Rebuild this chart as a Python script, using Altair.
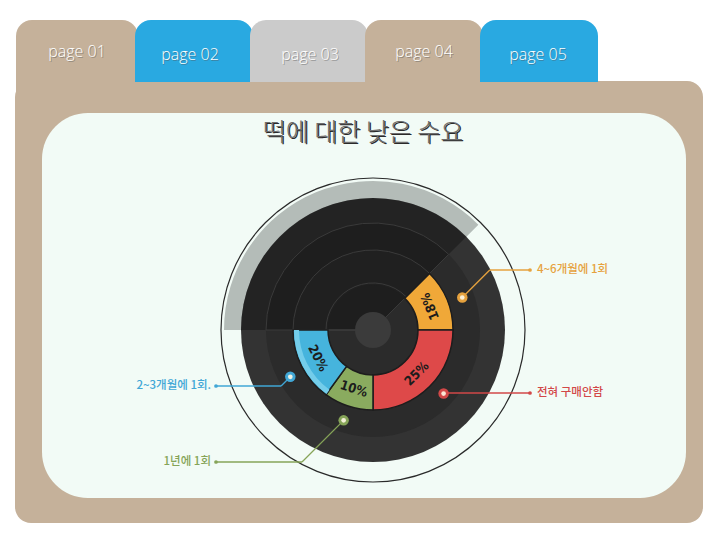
import altair as alt
import numpy as np
import pandas as pd

# ---------------- data ----------------
categories = ["4~6개월에 1회", "전혀 구매안함", "1년에 1회", "2~3개월에 1회."]
pct_labels = ["18%", "25%", "10%", "20%"]
start_deg = [45, 90, 180, 216]
end_deg = [90, 180, 216, 270]
seg_colors = ["#f0a838", "#de4949", "#8aab5f", "#46b4dd"]
label_colors = ["#e6a23e", "#d24848", "#86a458", "#41a7d6"]
tab_labels = ["page 01", "page 02", "page 03", "page 04", "page 05"]
title_text = "떡에 대한 낮은 수요"

# ---------------- layout ----------------
W, H, OFF = 704, 524, 8
CX, CY = 373 - OFF, 330 - OFF
TAU = 2 * np.pi
TAN, BLUE, GREY = "#c5b19a", "#29a9e1", "#cbcbcb"
one = pd.DataFrame({"k": [0]})
xs = alt.Scale(domain=[0, W], range=[0, W], nice=False, zero=False)
ys = alt.Scale(domain=[0, H], range=[0, H], nice=False, zero=False)
ts = alt.Scale(domain=[0, 360], range=[0, TAU], nice=False, zero=False)


def rect(x1, x2, y1, y2, color, **kw):
    return alt.Chart(one).mark_rect(color=color, **kw).encode(
        x=alt.value(x1 - OFF), x2=alt.value(x2 - OFF),
        y=alt.value(y1 - OFF), y2=alt.value(y2 - OFF))


def ring(r_in, r_out, color, t0=0.0, t1=TAU, **kw):
    return alt.Chart(one).mark_arc(innerRadius=r_in, outerRadius=r_out, color=color, **kw).encode(
        theta=alt.value(t0), theta2=alt.value(t1),
        x=alt.value(CX), y=alt.value(CY))


layers = []
# panel + tabs
layers.append(rect(15, 703, 81, 523, TAN, cornerRadius=16))
tab_x = [(16, 138), (135, 253), (250, 368), (365, 483), (480, 598)]
tab_c = [TAN, BLUE, GREY, TAN, BLUE]
for i, ((a, b), c) in enumerate(zip(tab_x, tab_c)):
    layers.append(rect(a, b, 20, 100 if i == 0 else 82, c,
                       cornerRadiusTopLeft=16, cornerRadiusTopRight=16))
layers.append(rect(42, 686, 113, 498, "#f2fbf6", cornerRadius=46))

tab_df = pd.DataFrame({
    "label": tab_labels,
    "x": [77 - OFF, 190 - OFF, 310 - OFF, 424 - OFF, 538 - OFF],
    "y": [52 - OFF, 55 - OFF, 55 - OFF, 52 - OFF, 55 - OFF],
})
tab_font = "Open Sans, Lato, DejaVu Sans"
layers.append(alt.Chart(tab_df).mark_text(font=tab_font, fontSize=16, fontWeight=300, color="#555",
                                          opacity=0.45, dx=1, dy=1, baseline="middle").encode(
    x=alt.X("x:Q", scale=xs, axis=None), y=alt.Y("y:Q", scale=ys, axis=None), text="label:N"))
layers.append(alt.Chart(tab_df).mark_text(font=tab_font, fontSize=16, fontWeight=300, color="#ffffff",
                                          baseline="middle").encode(
    x=alt.X("x:Q", scale=xs, axis=None), y=alt.Y("y:Q", scale=ys, axis=None), text="label:N"))

# title
title_df = pd.DataFrame({"t": [title_text], "x": [363 - OFF], "y": [133 - OFF]})
tfont = "Noto Sans CJK KR"
layers.append(alt.Chart(title_df).mark_text(font=tfont, fontSize=25, fontWeight=300, color="#2a2a2a",
                                            dx=1.3, dy=1.3, baseline="middle").encode(
    x=alt.X("x:Q", scale=xs, axis=None), y=alt.Y("y:Q", scale=ys, axis=None), text="t:N"))
layers.append(alt.Chart(title_df).mark_text(font=tfont, fontSize=25, fontWeight=300, color="#6e6e6e",
                                            baseline="middle").encode(
    x=alt.X("x:Q", scale=xs, axis=None), y=alt.Y("y:Q", scale=ys, axis=None), text="t:N"))

# donut background
S0, S1 = 1.5 * np.pi, 2.25 * np.pi
layers.append(ring(0, 152, "#ffffff", fillOpacity=0, stroke="#2a2a2a", strokeWidth=1.2))
layers.append(ring(120, 149, "#b4bcb8", S0, S1))
layers.append(ring(0, 132, "#333333"))
layers.append(ring(0, 107, "#2b2b2b"))
layers.append(ring(0, 80, "#2e2e2e"))
layers.append(ring(0, 45, "#2b2b2b"))
layers.append(ring(0, 132, "#000000", S0, S1, fillOpacity=0.3))
for r in [107, 80, 47]:
    layers.append(ring(0, r, "#ffffff", S0, S1, fillOpacity=0, stroke="#3a3a3a", strokeWidth=1))
layers.append(ring(0, 18, "#3b3b3b"))

# segments
seg_df = pd.DataFrame({
    "cat": categories, "pct": pct_labels, "start": start_deg, "end": end_deg, "color": seg_colors,
})
seg_df["mid"] = (seg_df["start"] + seg_df["end"]) / 2
seg_df["rot"] = (seg_df["mid"] + 180) % 360
layers.append(alt.Chart(seg_df).mark_arc(innerRadius=45, outerRadius=80, stroke="#1d1d1d",
                                         strokeWidth=1.5).encode(
    theta=alt.Theta("start:Q", scale=ts, stack=None), theta2="end:Q",
    color=alt.Color("color:N", scale=None), x=alt.value(CX), y=alt.value(CY)))
blue_df = seg_df[seg_df["pct"] == "20%"]
layers.append(alt.Chart(blue_df).mark_arc(innerRadius=74, outerRadius=79, color="#74cdea").encode(
    theta=alt.Theta("start:Q", scale=ts, stack=None), theta2="end:Q",
    x=alt.value(CX), y=alt.value(CY)))
layers.append(alt.Chart(seg_df).mark_text(radius=62, font="DejaVu Sans Condensed, Liberation Sans Narrow, Liberation Sans",
                                          fontSize=13, fontWeight="bold", color="#1c1c1c",
                                          baseline="middle").encode(
    theta=alt.Theta("mid:Q", scale=ts, stack=None), angle=alt.Angle("rot:Q", scale=None),
    text="pct:N", x=alt.value(CX), y=alt.value(CY)))

# callouts
call_angle = [70, 132, 198, 240.5]
dot_r = 95
label_y = [270, 393, 462, 386]
side = [1, 1, -1, -1]
rows, segs = [], []
for i in range(4):
    a = np.radians(call_angle[i])
    dx, dy = CX + dot_r * np.sin(a), CY - dot_r * np.cos(a)
    ly = label_y[i] - OFF
    ex = dx + side[i] * abs(ly - dy)
    endx = (530 if side[i] > 0 else 216) - OFF
    tx = (537 if side[i] > 0 else 211) - OFF
    rows.append({"cat": categories[i], "dx": dx, "dy": dy, "endx": endx, "ly": ly, "tx": tx,
                 "color": label_colors[i], "side": side[i]})
    segs.append({"x": dx, "y": dy, "x2": ex, "y2": ly, "color": label_colors[i]})
    segs.append({"x": ex, "y": ly, "x2": endx, "y2": ly, "color": label_colors[i]})
call_df = pd.DataFrame(rows)
seg_line_df = pd.DataFrame(segs)
layers.append(alt.Chart(seg_line_df).mark_rule(strokeWidth=1.3).encode(
    x=alt.X("x:Q", scale=xs, axis=None), y=alt.Y("y:Q", scale=ys, axis=None),
    x2="x2:Q", y2="y2:Q", color=alt.Color("color:N", scale=None)))
layers.append(alt.Chart(call_df).mark_circle(size=110, opacity=1).encode(
    x=alt.X("dx:Q", scale=xs, axis=None), y=alt.Y("dy:Q", scale=ys, axis=None),
    color=alt.Color("color:N", scale=None)))
layers.append(alt.Chart(call_df).mark_circle(size=22, opacity=0.9, color="#fff8e6").encode(
    x=alt.X("dx:Q", scale=xs, axis=None), y=alt.Y("dy:Q", scale=ys, axis=None)))
layers.append(alt.Chart(call_df).mark_circle(size=14, opacity=1).encode(
    x=alt.X("endx:Q", scale=xs, axis=None), y=alt.Y("ly:Q", scale=ys, axis=None),
    color=alt.Color("color:N", scale=None)))
lfont = "Noto Sans CJK KR"
layers.append(alt.Chart(call_df[call_df["side"] > 0]).mark_text(
    font=lfont, fontSize=11.5, fontWeight=500, align="left", baseline="middle").encode(
    x=alt.X("tx:Q", scale=xs, axis=None), y=alt.Y("ly:Q", scale=ys, axis=None), text="cat:N",
    color=alt.Color("color:N", scale=None)))
layers.append(alt.Chart(call_df[call_df["side"] < 0]).mark_text(
    font=lfont, fontSize=11.5, fontWeight=500, align="right", baseline="middle").encode(
    x=alt.X("tx:Q", scale=xs, axis=None), y=alt.Y("ly:Q", scale=ys, axis=None), text="cat:N",
    color=alt.Color("color:N", scale=None)))

chart = alt.layer(*layers).properties(
    width=W, height=H, padding=0, autosize=alt.AutoSizeParams(type="none"), background="#ffffff"
).configure_view(stroke=None)

chart.save("out.html", embed_options={"renderer": "svg", "actions": False})
